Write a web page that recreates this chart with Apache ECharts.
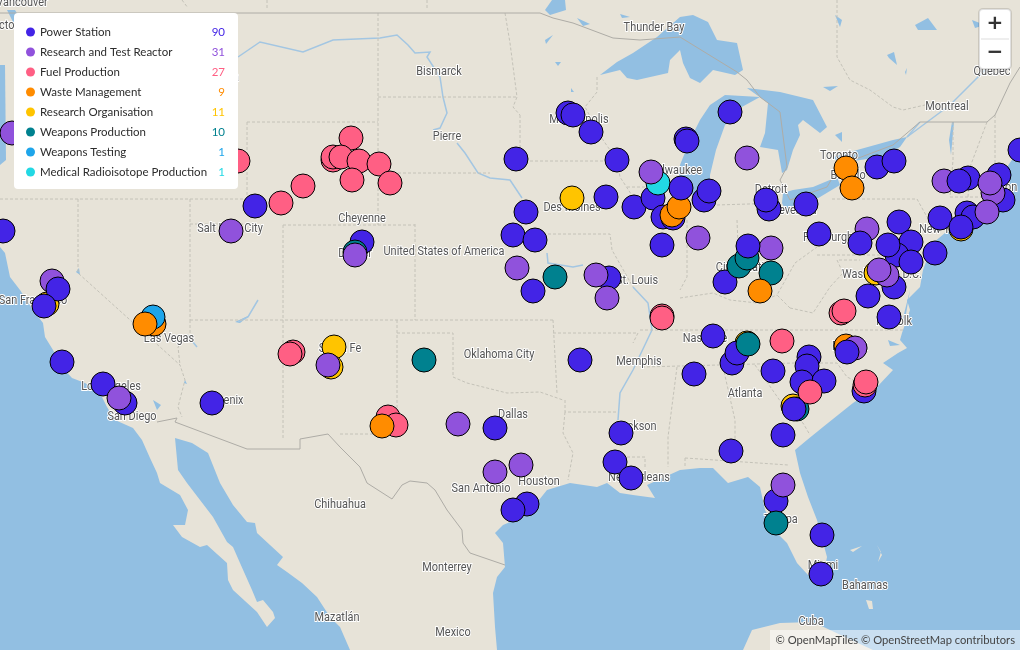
<!DOCTYPE html>
<html>
<head>
<meta charset="utf-8">
<style>html,body{margin:0;padding:0;background:#e7e3d8}#main{width:1020px;height:650px}</style>
<script src="https://cdn.jsdelivr.net/npm/echarts@6/dist/echarts.min.js"></script>
</head>
<body>
<div id="main"></div>
<script>
// legend
const categories = ['Power Station', 'Research and Test Reactor', 'Fuel Production', 'Waste Management',
    'Research Organisation', 'Weapons Production', 'Weapons Testing', 'Medical Radioisotope Production'];
const counts = [90, 31, 27, 9, 11, 10, 1, 1];
const colors = ['#4324e6', '#9052dc', '#ff5f84', '#ff8c00', '#ffc400', '#00818f', '#1ea5ea', '#22d8e4'];

// sites (map x, map y)
const organisationSites = [[572, 198], [334, 347], [331, 367], [47, 304], [793, 406], [961, 229], [876, 273], [747, 343]];
const wasteBack = [[154, 324], [846, 346]];
const testingSites = [[153, 317]];
const powerBack = [[568, 113], [573, 115], [591, 132], [516, 159], [617, 160], [730, 112], [686, 139], [687, 141], [606, 197],
    [634, 207], [653, 198], [663, 217], [673, 218], [662, 245], [526, 212], [513, 235], [535, 240], [533, 291], [609, 278],
    [580, 360], [362, 242], [255, 206], [3, 231], [62, 362], [103, 384], [125, 403], [212, 403], [495, 428], [621, 433],
    [731, 451], [615, 462], [631, 478], [527, 504], [513, 510], [694, 374], [713, 336], [732, 363], [737, 353], [773, 371],
    [809, 357], [807, 366], [802, 382], [824, 381], [864, 391], [783, 435], [776, 501], [822, 535], [821, 574], [704, 200],
    [709, 191], [769, 209], [766, 200], [806, 204], [819, 234], [725, 282], [868, 296], [889, 317], [894, 287], [899, 222],
    [911, 242], [897, 255], [888, 245], [911, 262], [935, 253], [940, 218], [877, 167], [894, 161], [1020, 150], [968, 178],
    [999, 175], [1003, 200], [967, 213], [973, 217]];
const weaponsSites = [[355, 252], [555, 277], [424, 360], [771, 273], [739, 266], [747, 258], [748, 344], [776, 523], [797, 409]];
const medicalSites = [[658, 183]];
const reactorSites = [[12, 133], [231, 231], [52, 281], [119, 398], [355, 255], [328, 365], [458, 424], [495, 472], [521, 465],
    [517, 268], [596, 275], [607, 298], [651, 172], [747, 158], [698, 238], [771, 248], [783, 485], [867, 229], [887, 275],
    [879, 270], [855, 348], [944, 181], [993, 193], [990, 183], [987, 212]];
const fuelSites = [[238, 161], [351, 138], [333, 160], [333, 157], [341, 157], [359, 161], [379, 164], [352, 180], [390, 183],
    [303, 186], [281, 203], [293, 352], [290, 354], [388, 417], [396, 425], [662, 316], [662, 318], [782, 341], [841, 313], [844, 311],
    [865, 385], [866, 382], [810, 392]];
const wasteFront = [[846, 168], [852, 188], [145, 324], [382, 426], [760, 291], [672, 215], [679, 207]];
const powerFront = [[58, 289], [44, 306], [794, 409], [748, 246], [959, 181], [847, 352], [681, 188], [961, 227], [860, 243]];

const layers = [
    ['Research Organisation', organisationSites], ['Waste Management', wasteBack], ['Weapons Testing', testingSites],
    ['Power Station', powerBack], ['Weapons Production', weaponsSites], ['Medical Radioisotope Production', medicalSites],
    ['Research and Test Reactor', reactorSites], ['Fuel Production', fuelSites], ['Waste Management', wasteFront],
    ['Power Station', powerFront]
];

// base map outlines
const oceanWest = [[0, 247], [5, 253], [10, 277], [20, 290], [33, 310], [43, 323], [45, 337], [53, 350], [62, 367], [72, 378],
    [85, 383], [100, 393], [107, 407], [115, 420], [133, 428], [142, 440], [150, 458], [157, 473], [160, 483], [180, 495],
    [188, 510], [185, 525], [173, 525], [182, 537], [200, 547], [207, 545], [227, 563], [228, 580], [233, 590], [257, 612],
    [267, 627], [275, 618], [273, 612], [263, 600], [257, 602], [252, 590], [240, 563], [233, 547], [227, 542], [213, 517],
    [200, 500], [187, 483], [178, 470], [175, 438], [192, 443], [208, 453], [220, 483], [233, 505], [247, 522], [255, 523],
    [257, 533], [270, 545], [283, 557], [277, 565], [287, 572], [302, 583], [317, 597], [330, 617], [340, 627], [350, 650], [0, 650]];
const oceanEast = [[497, 650], [495, 627], [493, 593], [497, 577], [505, 567], [503, 543], [495, 533], [503, 525], [527, 515],
    [547, 490], [570, 483], [597, 487], [607, 483], [620, 493], [633, 495], [655, 498], [647, 485], [680, 470], [700, 468],
    [713, 468], [728, 483], [748, 477], [760, 487], [765, 510], [777, 533], [787, 543], [797, 563], [808, 575], [823, 577],
    [827, 557], [817, 520], [808, 497], [800, 473], [795, 450], [807, 440], [823, 427], [853, 403], [877, 387], [893, 370],
    [883, 363], [898, 353], [907, 348], [900, 340], [902, 333], [910, 310], [907, 300], [920, 287], [923, 270], [933, 243],
    [945, 233], [973, 225], [985, 212], [1000, 205], [1015, 197], [1005, 170], [1020, 148], [1020, 650]];
const lakeSuperior = [[600, 75], [617, 62], [633, 53], [657, 37], [680, 17], [693, 15], [708, 22], [717, 40], [737, 43], [743, 70],
    [735, 75], [713, 70], [700, 83], [690, 78], [683, 63], [680, 50], [670, 60], [668, 73], [637, 80], [627, 78], [620, 70]];
const lakeMichigan = [[725, 95], [760, 97], [740, 108], [725, 125], [716, 150], [710, 175], [710, 190], [697, 197], [683, 190],
    [678, 170], [690, 140], [700, 120], [710, 105]];
const lakeHuron = [[747, 88], [780, 92], [813, 100], [827, 127], [820, 133], [803, 120], [798, 125], [800, 135], [793, 150], [787, 170],
    [782, 173], [778, 150], [760, 147], [765, 133], [768, 103]];
const lakeErie = [[783, 193], [793, 190], [813, 187], [837, 177], [840, 185], [820, 197], [800, 208], [787, 213], [782, 203]];
const lakeOntario = [[833, 157], [857, 150], [893, 140], [907, 137], [900, 147], [883, 157], [860, 160], [840, 163]];
const smallWater = [
    [[0, 65], [5, 65], [6, 160], [0, 165]], [[7, 10], [15, 10], [25, 26], [14, 24]], [[545, 10], [552, 0], [565, 0], [566, 10], [550, 15]],
    [[545, 40], [553, 35], [546, 44]], [[555, 62], [561, 62], [558, 66]], [[571, 88], [574, 92], [571, 92]],
    [[577, 18], [590, 24], [583, 26]], [[620, 14], [630, 17], [622, 18]], [[823, 87], [838, 86], [830, 91]], [[835, 15], [842, 20], [840, 27]],
    [[915, 25], [928, 18], [937, 30], [918, 30]], [[972, 20], [985, 25], [975, 28]], [[887, 55], [894, 52], [897, 65], [889, 58]],
    [[905, 72], [907, 68], [906, 75]], [[952, 122], [954, 122], [951, 155], [949, 140]], [[835, 135], [842, 132], [842, 142]],
    [[76, 272], [79, 268], [80, 275]], [[153, 400], [161, 405], [157, 410]], [[185, 380], [187, 384], [184, 383]], [[235, 322], [250, 315], [240, 323]],
    [[910, 290], [905, 320], [903, 318]], [[888, 340], [900, 345], [890, 346]]
];
const waterAreas = [oceanWest, oceanEast, lakeSuperior, lakeMichigan, lakeHuron, lakeErie, lakeOntario].concat(smallWater);
const landAreas = [
    [[743, 650], [752, 630], [780, 623], [813, 622], [830, 630], [873, 650]],
    [[850, 550], [862, 546], [853, 552]], [[866, 600], [872, 601], [873, 609], [869, 609]], [[877, 545], [882, 555], [878, 562], [881, 552]]
];
const rivers = [
    [[238, 57], [260, 42], [303, 52], [333, 40], [380, 38], [397, 35], [408, 45], [415, 53], [430, 52], [427, 57], [440, 77], [443, 97], [447, 113], [440, 128], [433, 130]],
    [[457, 143], [465, 153], [478, 173], [490, 178], [510, 180], [522, 198]],
    [[547, 253], [548, 263], [573, 267], [583, 265]],
    [[633, 287], [648, 303], [652, 330], [633, 370], [620, 393], [618, 420]],
    [[258, 300], [248, 317], [238, 322]], [[187, 335], [197, 347]],
    [[907, 137], [950, 105], [975, 80], [1000, 55], [1010, 40]], [[907, 137], [920, 122]]
];
const countryBorders = [
    [[0, 13], [540, 13], [553, 18], [573, 23], [597, 32], [613, 38], [640, 40], [680, 37], [737, 72], [747, 80], [760, 97], [780, 112], [787, 167], [780, 180], [790, 200], [827, 187], [840, 165], [893, 145], [920, 122], [987, 122], [995, 115], [1010, 83], [1020, 67]],
    [[157, 422], [177, 418], [175, 422], [247, 449], [300, 449], [300, 439], [328, 434], [340, 447], [360, 467], [367, 483], [392, 499], [402, 485], [410, 481], [427, 483], [435, 490], [447, 510], [462, 530], [463, 543], [470, 553], [505, 565]]
];
const stateBorders = [
    [[378, 13], [378, 225]], [[378, 97], [517, 97]], [[247, 122], [378, 122]], [[247, 122], [247, 205]], [[0, 199], [247, 199]],
    [[378, 173], [490, 173]], [[520, 115], [520, 160]], [[520, 161], [603, 161]], [[505, 13], [510, 43], [517, 97], [513, 107], [520, 115]],
    [[597, 77], [597, 92], [585, 107], [603, 140], [617, 160], [620, 177], [633, 197]], [[283, 225], [415, 225]], [[415, 224], [415, 320]],
    [[548, 234], [610, 234], [612, 250], [633, 287]], [[190, 199], [190, 320]], [[190, 224], [247, 224]], [[283, 225], [283, 440]],
    [[190, 320], [553, 320]], [[78, 199], [78, 273], [180, 365], [185, 380], [178, 407], [182, 417]], [[190, 320], [190, 335], [178, 347], [180, 365]],
    [[397, 320], [397, 417]], [[397, 333], [453, 333], [453, 377], [467, 383], [507, 393], [540, 392], [563, 400]], [[340, 434], [378, 434]],
    [[553, 320], [557, 393]], [[553, 333], [638, 333], [633, 343]], [[565, 400], [565, 412], [618, 412]], [[565, 412], [563, 433], [573, 453], [568, 480]],
    [[677, 367], [668, 437], [668, 467]], [[627, 457], [645, 457], [645, 467]], [[642, 367], [795, 363]], [[640, 330], [903, 330]],
    [[723, 367], [735, 420], [735, 458]], [[685, 458], [788, 465]], [[685, 458], [685, 468]], [[795, 363], [837, 363], [847, 377], [875, 390]],
    [[755, 365], [790, 415], [803, 423], [810, 435]], [[790, 308], [777, 295], [795, 263], [817, 247], [817, 227]], [[817, 255], [893, 255]],
    [[790, 308], [813, 313], [830, 287], [843, 273], [837, 260], [860, 260]], [[737, 220], [739, 270]], [[687, 220], [687, 277], [680, 290]],
    [[680, 298], [713, 293], [730, 300], [757, 303], [777, 295]], [[717, 205], [780, 203]], [[832, 199], [917, 199], [927, 217]], [[953, 122], [953, 160], [950, 197]],
    [[987, 122], [970, 167], [968, 197]], [[995, 115], [995, 165]], [[627, 187], [680, 187]], [[837, 0], [837, 57], [850, 80], [870, 90], [893, 107], [903, 110], [925, 105]],
    [[182, 0], [188, 8]], [[267, 0], [267, 10]], [[427, 0], [427, 10]], [[520, 200], [522, 234]], [[893, 255], [900, 290], [905, 280]], [[950, 197], [1015, 197]]
];

const cityNames = ['Vancouver', 'Victoria', 'Thunder Bay', 'Bismarck', 'Pierre', 'Montreal', 'Quebec', 'Toronto', 'Buffalo', 'Detroit',
    'Cleveland', 'Milwaukee', 'Minneapolis', 'Des Moines', 'Cheyenne', 'Denver', 'United States of America', 'Salt Lake City',
    'San Francisco', 'Las Vegas', 'Los Angeles', 'San Diego', 'Phoenix', 'Santa Fe', 'Oklahoma City', 'St. Louis', 'Memphis',
    'Nashville', 'Atlanta', 'Dallas', 'Jackson', 'Houston', 'San Antonio', 'New Orleans', 'Chihuahua', 'Monterrey', 'Mexico',
    'Mazatlán', 'Cuba', 'Bahamas', 'Miami', 'Tampa', 'Cincinnati', 'Pittsburgh', 'Washington D.C.', 'Norfolk', 'Raleigh',
    'New York', 'Boston', 'Helena'];
const cityX = [22, 8, 654, 439, 447, 947, 992, 839, 848, 771, 793, 676, 579, 572, 362, 355, 444, 230, 33, 169, 111, 132, 224, 340, 499,
    637, 639, 705, 745, 513, 636, 539, 481, 639, 340, 447, 453, 337, 811, 865, 823, 781, 740, 828, 882, 894, 850, 942, 1000, 222];
const cityY = [3, 26, 28, 72, 137, 107, 72, 156, 176, 190, 211, 171, 120, 208, 219, 254, 252, 229, 301, 339, 387, 417, 401, 349, 355,
    281, 362, 339, 394, 415, 427, 482, 489, 478, 505, 568, 633, 618, 622, 586, 566, 520, 268, 238, 275, 322, 347, 230, 188, 78];

const chart = echarts.init(document.getElementById('main'));

function areaSeries(list, fill) {
    return {
        type: 'custom',
        silent: true,
        clip: false,
        z: 1,
        data: list.map((_, i) => [i]),
        renderItem: (params, api) => ({
            type: 'polygon',
            shape: { points: list[api.value(0)].map((p) => api.coord(p)) },
            style: { fill: fill }
        })
    };
}

function pathSeries(list, stroke, width, dash) {
    return {
        type: 'custom',
        silent: true,
        clip: false,
        z: 1,
        data: list.map((_, i) => [i]),
        renderItem: (params, api) => ({
            type: 'polyline',
            shape: { points: list[api.value(0)].map((p) => api.coord(p)) },
            style: { fill: null, stroke: stroke, lineWidth: width, lineDash: dash }
        })
    };
}

const rich = { n: { width: 155, fontSize: 11.5, color: '#2c2c2c', fontFamily: 'Lato', height: 14 } };
categories.forEach((c, i) => {
    rich['c' + i] = { width: 30, align: 'right', fontSize: 11.5, color: colors[i], fontFamily: 'Lato', height: 14 };
});

const options = {
    animation: false,
    backgroundColor: '#e7e3d8',
    grid: { left: 0, right: 0, top: 0, bottom: 0 },
    xAxis: { type: 'value', min: 0, max: 1020, show: false },
    yAxis: { type: 'value', min: 0, max: 650, inverse: true, show: false },
    legend: {
        orient: 'vertical',
        left: 14,
        top: 13,
        padding: [13, 13, 11, 12],
        backgroundColor: '#ffffff',
        borderRadius: 4,
        itemWidth: 9,
        itemHeight: 9,
        itemGap: 8,
        icon: 'circle',
        selectedMode: false,
        itemStyle: { borderWidth: 0 },
        data: categories,
        formatter: (name) => {
            const i = categories.indexOf(name);
            return '{n|' + name + '}{c' + i + '|' + counts[i] + '}';
        },
        textStyle: { rich: rich }
    },
    series: [
        areaSeries(waterAreas, '#92bfe2'),
        areaSeries(landAreas, '#e7e3d8'),
        pathSeries(rivers, '#a3c6e2', 1.5, null),
        pathSeries(stateBorders, '#c4c2b8', 1, [3, 2]),
        pathSeries(countryBorders, '#aeaca6', 1, null),
        {
            // city names, narrowed to the map's condensed type
            type: 'custom',
            silent: true,
            clip: false,
            z: 2,
            data: cityNames.map((_, i) => [cityX[i], cityY[i], i]),
            renderItem: (params, api) => {
                const p = api.coord([api.value(0), api.value(1)]);
                return {
                    type: 'text',
                    x: p[0],
                    y: p[1],
                    scaleX: 0.84,
                    style: {
                        text: cityNames[api.value(2)],
                        fontFamily: 'Roboto',
                        fontSize: 13,
                        fill: '#555555',
                        stroke: '#ffffff',
                        lineWidth: 2,
                        align: 'center',
                        verticalAlign: 'middle'
                    }
                };
            }
        }
    ].concat(layers.map(([name, sites]) => ({
        name: name,
        type: 'scatter',
        z: 3,
        clip: false,
        symbolSize: 24,
        itemStyle: { color: colors[categories.indexOf(name)], opacity: 1, borderColor: '#000000', borderWidth: 1 },
        emphasis: { disabled: true },
        data: sites
    }))),
    graphic: [
        { type: 'rect', z: 10, shape: { x: 979, y: 9, width: 32, height: 60, r: 4 }, style: { fill: '#ffffff', stroke: 'rgba(0,0,0,0.12)', lineWidth: 2 } },
        { type: 'line', z: 11, shape: { x1: 981, y1: 39, x2: 1009, y2: 39 }, style: { stroke: '#dddddd', lineWidth: 1 } },
        { type: 'text', z: 11, x: 995, y: 24, style: { text: '+', fontFamily: 'DejaVu Sans', fontWeight: 'bold', fontSize: 20, fill: '#333333', align: 'center', verticalAlign: 'middle' } },
        { type: 'text', z: 11, x: 995, y: 53, style: { text: '\u2212', fontFamily: 'DejaVu Sans', fontWeight: 'bold', fontSize: 20, fill: '#333333', align: 'center', verticalAlign: 'middle' } },
        { type: 'rect', z: 10, shape: { x: 770, y: 630, width: 250, height: 20 }, style: { fill: 'rgba(255,255,255,0.5)' } },
        { type: 'text', z: 11, x: 1015, y: 640, style: { text: '\u00a9 OpenMapTiles \u00a9 OpenStreetMap contributors', fontFamily: 'Lato', fontSize: 11.2, fill: '#444444', align: 'right', verticalAlign: 'middle' } }
    ]
};

chart.setOption(options);
</script>
</body>
</html>
